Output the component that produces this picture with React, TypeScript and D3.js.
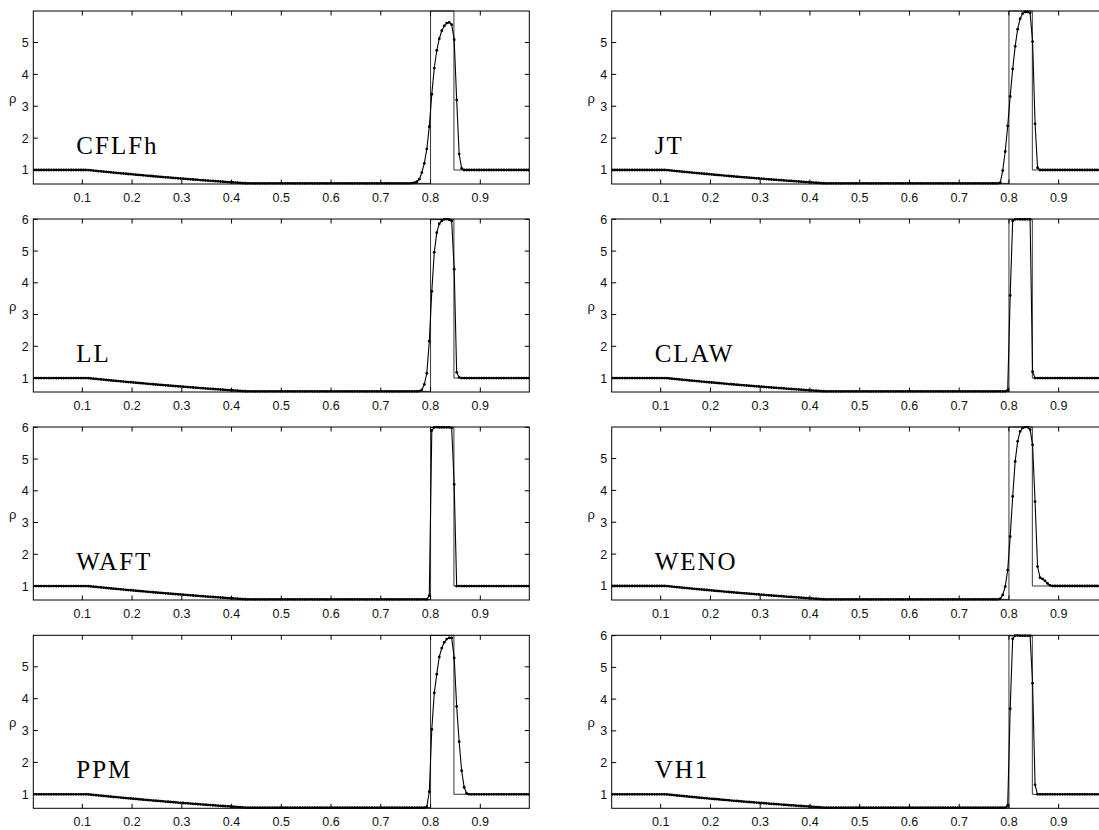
import React from "react";
import * as d3 from "d3";

// ---------- data ----------
const methods = ["CFLFh", "JT", "LL", "CLAW", "WAFT", "WENO", "PPM", "VH1"];
const xTicks = [0.1, 0.2, 0.3, 0.4, 0.5, 0.6, 0.7, 0.8, 0.9];
const yTicks = [1, 2, 3, 4, 5, 6];
const xDomain = [0.0015, 0.9985];
const yMin = 0.56;
const yMaxByPanel = [5.99, 5.99, 6.01, 6.01, 6.01, 5.99, 5.99, 6.01];

const cellCount = 200;
const cellWidth = 0.005;
const leftRho = 1.0;
const plateauRho = 0.58;
const rightRho = 1.0;

// numerical rarefaction fan (cells 20..87)
const rarefactionStart = 20;
const rarefactionRho = [
  1.0, 1.0, 0.996, 0.988, 0.98, 0.972, 0.964, 0.957, 0.949, 0.941,
  0.934, 0.926, 0.918, 0.911, 0.903, 0.896, 0.889, 0.881, 0.874, 0.867,
  0.86, 0.853, 0.846, 0.839, 0.832, 0.825, 0.818, 0.811, 0.804, 0.797,
  0.791, 0.784, 0.778, 0.771, 0.765, 0.758, 0.752, 0.745, 0.739, 0.733,
  0.727, 0.721, 0.715, 0.708, 0.702, 0.696, 0.69, 0.684, 0.678, 0.672,
  0.666, 0.66, 0.655, 0.649, 0.643, 0.638, 0.632, 0.627, 0.621, 0.616,
  0.61, 0.605, 0.599, 0.594, 0.589, 0.584, 0.581, 0.58,
];

// shell region (contact + shock) for each scheme: first cell index and values
const peakStart = [152, 155, 155, 158, 158, 156, 158, 158];
const peakCFLFh = [0.59, 0.6, 0.63, 0.71, 0.92, 1.21, 1.66, 2.36, 3.38, 4.2, 4.75, 5.12, 5.37, 5.52, 5.61, 5.63, 5.56, 5.09, 3.2, 1.5, 1.05];
const peakJT = [0.58, 0.6, 0.98, 1.58, 2.38, 3.31, 4.17, 4.88, 5.42, 5.75, 5.91, 5.96, 5.96, 5.93, 5.03, 2.45, 1.07];
const peakLL = [0.59, 0.63, 0.8, 1.15, 2.16, 3.73, 4.96, 5.58, 5.86, 5.95, 6.0, 6.01, 5.99, 5.95, 4.43, 1.18, 1.02];
const peakCLAW = [0.58, 0.62, 3.6, 5.95, 6.0, 6.01, 6.0, 6.0, 6.0, 6.0, 6.0, 1.2, 1.0];
const peakWAFT = [0.58, 0.7, 5.9, 6.0, 6.01, 6.0, 6.0, 6.0, 6.0, 6.0, 5.98, 4.2, 1.0];
const peakWENO = [0.6, 0.72, 0.98, 1.5, 2.55, 3.81, 4.91, 5.54, 5.85, 5.96, 5.99, 5.99, 5.91, 5.43, 3.65, 1.61, 1.26, 1.22, 1.16, 1.08, 1.02];
const peakPPM = [0.61, 1.08, 3.04, 4.18, 4.77, 5.31, 5.59, 5.77, 5.87, 5.91, 5.91, 5.28, 3.76, 2.65, 1.74, 1.22, 1.03];
const peakVH1 = [0.58, 0.65, 3.7, 5.9, 6.0, 6.01, 6.0, 6.0, 6.0, 6.0, 6.0, 4.5, 1.3, 1.0];
const peakRho = [peakCFLFh, peakJT, peakLL, peakCLAW, peakWAFT, peakWENO, peakPPM, peakVH1];

// exact solution polyline
const exactX = [0.0015, 0.11, 0.15, 0.2, 0.25, 0.3, 0.35, 0.4, 0.43, 0.8, 0.8, 0.847, 0.847, 0.9985];
const exactY = [1.0, 1.0, 0.94, 0.863, 0.794, 0.73, 0.669, 0.613, 0.58, 0.58, 5.99, 5.99, 1.0, 1.0];

// ---------- layout ----------
const W = 1099;
const H = 830;
const colLeft = [33.3, 611.7];
const rowTop = [11, 219, 427, 635.3];
const plotW = 496;
const plotH = 173;
const tickLen = 4.5;
const sans = "'Liberation Sans', Arial, Helvetica, sans-serif";
const serif = "'Liberation Serif', 'Times New Roman', serif";

function buildSeries(p: number): [number, number][] {
  const pk = peakRho[p];
  const s = peakStart[p];
  const out: [number, number][] = [];
  for (let i = 0; i < cellCount; i++) {
    const x = (i + 0.5) * cellWidth;
    let v: number;
    if (i >= s && i < s + pk.length) v = pk[i - s];
    else if (i < rarefactionStart) v = leftRho;
    else if (i < rarefactionStart + rarefactionRho.length) v = rarefactionRho[i - rarefactionStart];
    else if (i < s) v = plateauRho;
    else v = rightRho;
    out.push([x, v]);
  }
  return out;
}

function Panel({ p }: { p: number }) {
  const col = p % 2;
  const row = Math.floor(p / 2);
  const left = colLeft[col];
  const top = rowTop[row];
  const yMax = yMaxByPanel[p];
  const x = d3.scaleLinear().domain(xDomain).range([left, left + plotW]);
  const y = d3.scaleLinear().domain([yMin, yMax]).range([top + plotH, top]);
  const series = buildSeries(p);
  const line = d3.line<[number, number]>().x((d) => x(d[0])).y((d) => y(d[1]));
  const exact = exactX.map((v, i) => [v, exactY[i]] as [number, number]);
  const clipId = `clip-${p}`;
  const yt = yTicks.filter((t) => t <= yMax && t >= yMin);
  return (
    <g>
      <defs>
        <clipPath id={clipId}>
          <rect x={left} y={top - 1} width={plotW} height={plotH + 2} />
        </clipPath>
      </defs>
      <g clipPath={`url(#${clipId})`}>
        <path d={line(exact) || ""} fill="none" stroke="#222" strokeWidth={0.9} />
        <path d={line(series) || ""} fill="none" stroke="#000" strokeWidth={1.1} />
        {series.map((d, i) => (
          <circle key={i} cx={x(d[0])} cy={y(d[1])} r={1.4} fill="#000" />
        ))}
      </g>
      <rect x={left} y={top} width={plotW} height={plotH} fill="none" stroke="#000" strokeWidth={1} />
      {xTicks.map((t) => (
        <g key={"x" + t}>
          <line x1={x(t)} x2={x(t)} y1={top + plotH} y2={top + plotH - tickLen} stroke="#000" strokeWidth={1} />
          <line x1={x(t)} x2={x(t)} y1={top} y2={top + tickLen} stroke="#000" strokeWidth={1} />
          <text x={x(t)} y={top + plotH + 17.7} textAnchor="middle" fontFamily={sans} fontSize={12.5} fill="#111">
            {t.toFixed(1)}
          </text>
        </g>
      ))}
      {yt.map((t) => (
        <g key={"y" + t}>
          <line x1={left} x2={left + tickLen} y1={y(t)} y2={y(t)} stroke="#000" strokeWidth={1} />
          <line x1={left + plotW} x2={left + plotW - tickLen} y1={y(t)} y2={y(t)} stroke="#000" strokeWidth={1} />
          <text x={left - 4.6} y={y(t)} dy="0.36em" textAnchor="end" fontFamily={sans} fontSize={12.5} fill="#111">
            {t}
          </text>
        </g>
      ))}
      <text x={left - 20.5} y={top + 92} textAnchor="middle" fontFamily={sans} fontSize={13} fill="#111">
        ρ
      </text>
      <text x={left + 43} y={top + 143} fontFamily={serif} fontSize={25} letterSpacing={2} fill="#000">
        {methods[p]}
      </text>
    </g>
  );
}

export default function App() {
  return (
    <svg
      width={W}
      height={H}
      viewBox={`0 0 ${W} ${H}`}
      style={{ position: "absolute", left: 0, top: 0, background: "#fff", overflow: "hidden" }}
    >
      <rect x={0} y={0} width={W} height={H} fill="#fff" />
      {methods.map((m, p) => (
        <Panel key={m} p={p} />
      ))}
    </svg>
  );
}
